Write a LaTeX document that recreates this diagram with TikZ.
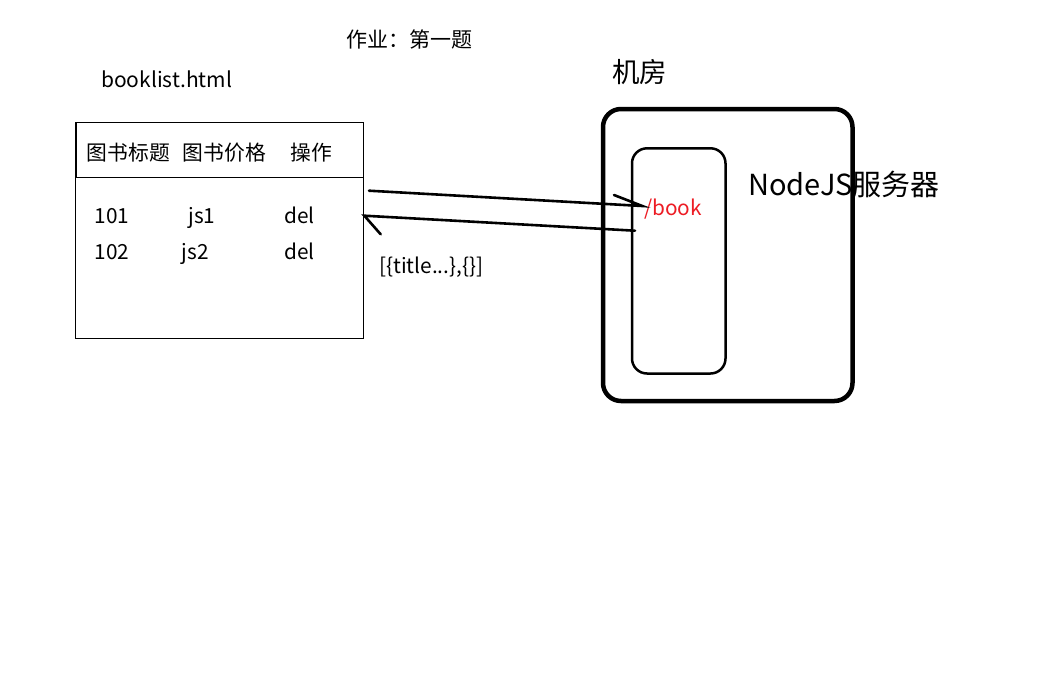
\documentclass[tikz,border=0pt]{standalone}
\usepackage{fontspec}
\setmainfont{Noto Sans CJK SC}
\definecolor{bookred}{RGB}{237,28,36}
\begin{document}
\begin{tikzpicture}[x=1pt,y=-1pt,
  lbl/.style={inner sep=0pt, anchor=base west, font=\fontsize{20.8}{24}\selectfont},
  arrowline/.style={line width=2.6pt, line cap=round},
  tablebox/.style={line width=1pt},
  outerbox/.style={line width=4.5pt, rounded corners=18pt},
  innerbox/.style={line width=2.5pt, rounded corners=15pt}]
\useasboundingbox (0,0) rectangle (1039,683);
\fill[white] (0,0) rectangle (1039,683);

% titles
\node[lbl, font=\fontsize{21}{24}\selectfont] (hw) at (346,47.5) {作业：第一题};
\node[lbl, font=\fontsize{21}{24}\selectfont] (bl) at (101,87.7) {booklist.html};
\node[lbl, font=\fontsize{27.5}{30}\selectfont] (jf) at (612,82) {机房};

% table
\draw[tablebox] (75,122.3) rectangle (363.3,338.3);
\draw[tablebox] (76.7,122.3) -- (76.7,177.3) -- (363.3,177.3);
\node[lbl] (h1) at (86.7,160.5) {图书标题};
\node[lbl] (h2) at (182.7,160.5) {图书价格};
\node[lbl] (h3) at (290,160.5) {操作};
\node[lbl] (r11) at (94.5,223.3) {101};
\node[lbl] (r12) at (188.3,223.3) {js1};
\node[lbl] (r13) at (284.3,223.3) {del};
\node[lbl] (r21) at (94.5,259) {102};
\node[lbl] (r22) at (181.7,259) {js2};
\node[lbl] (r23) at (284.3,259) {del};

% server room
\draw[outerbox] (603,109) rectangle (852.5,401);
\draw[innerbox] (632,148.3) rectangle (725.5,373.5);
\node[lbl, font=\fontsize{29}{32}\selectfont] (srv) at (748,195.7) {NodeJS服务器};
\node[lbl, text=bookred] (book) at (644,215.7) {/book};
\node[lbl] (data) at (379,273.3) {[\{title...\},\{\}]};

% arrows (hand-drawn half heads)
\coordinate (a1s) at (369,190.7);
\coordinate (a1e) at (642.3,206);
\coordinate (a1b) at (614,195);
\coordinate (a2s) at (635,230.7);
\coordinate (a2e) at (364.3,215.7);
\coordinate (a2b) at (380.7,234.3);
\draw[arrowline] (a1s) -- (a1e) -- (a1b);
\draw[arrowline] (a2s) -- (a2e) -- (a2b);
\end{tikzpicture}
\end{document}
